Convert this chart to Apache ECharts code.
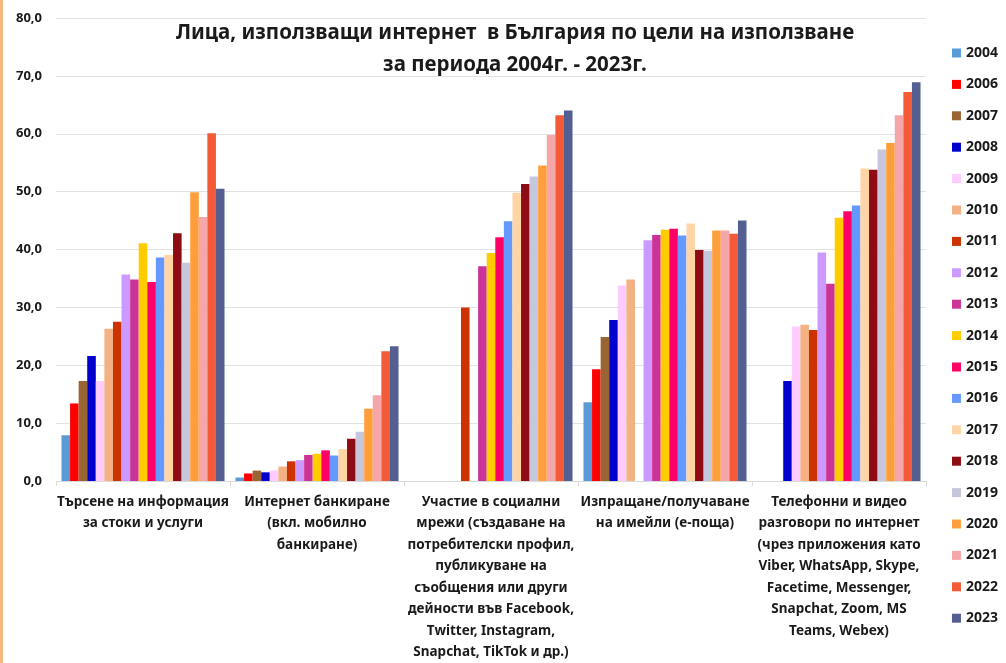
<!DOCTYPE html>
<html>
<head>
<meta charset="utf-8">
<script src="https://cdn.jsdelivr.net/npm/echarts@6/dist/echarts.min.js"></script>
<style>
html,body{margin:0;padding:0;background:#fff;}
#c{width:1006px;height:663px;}
</style>
</head>
<body>
<div id="c"></div>
<script>
const categories = [
  "Търсене на информация\nза стоки и услуги",
  "Интернет банкиране\n(вкл. мобилно\nбанкиране)",
  "Участие в социални\nмрежи (създаване на\nпотребителски профил,\nпубликуване на\nсъобщения или други\nдейности във Facebook,\nTwitter, Instagram,\nSnapchat, TikTok и др.)",
  "Изпращане/получаване\nна имейли (е-поща)",
  "Телефонни и видео\nразговори по интернет\n(чрез приложения като\nViber, WhatsApp, Skype,\nFacetime, Messenger,\nSnapchat, Zoom, MS\nTeams, Webex)"
];
const years = ["2004","2006","2007","2008","2009","2010","2011","2012","2013","2014","2015","2016","2017","2018","2019","2020","2021","2022","2023"];
const colors = ["#5B9BD5","#FF0000","#996633","#0000CC","#FFCCFF","#F4B183","#CC3300","#CC99FF","#CC3399","#FFCC00","#FF0066","#6699FF","#FFD5A5","#8E0C14","#C5C8DC","#FF9F3C","#F4A6A8","#F25A38","#545F91"];
// values per year: [search info, internet banking, social networks, e-mail, phone/video calls]
const v2004 = [7.9, 0.6, null, 13.6, null];
const v2006 = [13.4, 1.3, null, 19.3, null];
const v2007 = [17.3, 1.8, null, 24.9, null];
const v2008 = [21.6, 1.5, null, 27.8, 17.3];
const v2009 = [17.3, 1.8, null, 33.8, 26.7];
const v2010 = [26.3, 2.5, null, 34.8, 27.0];
const v2011 = [27.5, 3.4, 30.0, null, 26.1];
const v2012 = [35.7, 3.6, null, 41.6, 39.5];
const v2013 = [34.8, 4.5, 37.1, 42.5, 34.1];
const v2014 = [41.1, 4.7, 39.4, 43.4, 45.5];
const v2015 = [34.4, 5.3, 42.1, 43.6, 46.6];
const v2016 = [38.6, 4.4, 44.9, 42.4, 47.6];
const v2017 = [39.1, 5.5, 49.8, 44.5, 54.0];
const v2018 = [42.8, 7.3, 51.3, 39.9, 53.8];
const v2019 = [37.7, 8.5, 52.6, 39.8, 57.3];
const v2020 = [49.9, 12.5, 54.5, 43.3, 58.4];
const v2021 = [45.6, 14.8, 59.8, 43.3, 63.2];
const v2022 = [60.1, 22.4, 63.2, 42.7, 67.2];
const v2023 = [50.5, 23.3, 64.0, 45.0, 68.9];
const yearValues = [v2004,v2006,v2007,v2008,v2009,v2010,v2011,v2012,v2013,v2014,v2015,v2016,v2017,v2018,v2019,v2020,v2021,v2022,v2023];
const titleLines = ["Лица, използващи интернет  в България по цели на използване", "за периода 2004г. - 2023г."];

const FONT = "'Noto Sans', 'Open Sans', sans-serif";
const chart = echarts.init(document.getElementById('c'), null, {renderer:'canvas'});
const series = years.map((y,i)=>({
  name: y, type: 'bar', data: yearValues[i],
  itemStyle: {color: colors[i]},
  barGap: '0%', barCategoryGap: '6.3%'
}));
chart.setOption({
  animation: false,
  backgroundColor: '#fff',
  color: colors,
  title: {
    text: titleLines.join('\n'),
    left: 510, top: 12, textAlign: 'center',
    textStyle: {fontFamily: FONT, fontWeight: 'bold', fontSize: 20.5, lineHeight: 32, color: '#1a1a1a'}
  },
  legend: {
    orient: 'vertical', right: 3, top: 41,
    itemWidth: 9, itemHeight: 9, itemGap: 17.4,
    icon: 'rect',
    textStyle: {fontFamily: FONT, fontWeight: 'bold', fontSize: 14, lineHeight: 14, color: '#1a1a1a'},
    data: years
  },
  grid: {left: 56, right: 80, top: 18, bottom: 181, containLabel: false},
  xAxis: {
    type: 'category', data: categories,
    axisLine: {lineStyle: {color: '#D9D9D9'}},
    axisTick: {show: true, length: 5, lineStyle: {color: '#D9D9D9'}},
    axisLabel: {interval: 0, margin: 10, fontFamily: FONT, fontWeight: 'bold', fontSize: 13.5, lineHeight: 21.5, color: '#1a1a1a'}
  },
  yAxis: {
    type: 'value', min: 0, max: 80, interval: 10,
    axisLine: {show: false}, axisTick: {show: false},
    splitLine: {lineStyle: {color: '#E2E2E2'}},
    axisLabel: {margin: 14, fontFamily: FONT, fontWeight: 'bold', fontSize: 13, color: '#1a1a1a',
      formatter: v => v.toFixed(1).replace('.', ',')}
  },
  graphic: [{type: 'rect', left: 0, top: 0, shape: {width: 3, height: 663}, style: {fill: '#F2B77C'}}],
  series: series
});
</script>
</body>
</html>
